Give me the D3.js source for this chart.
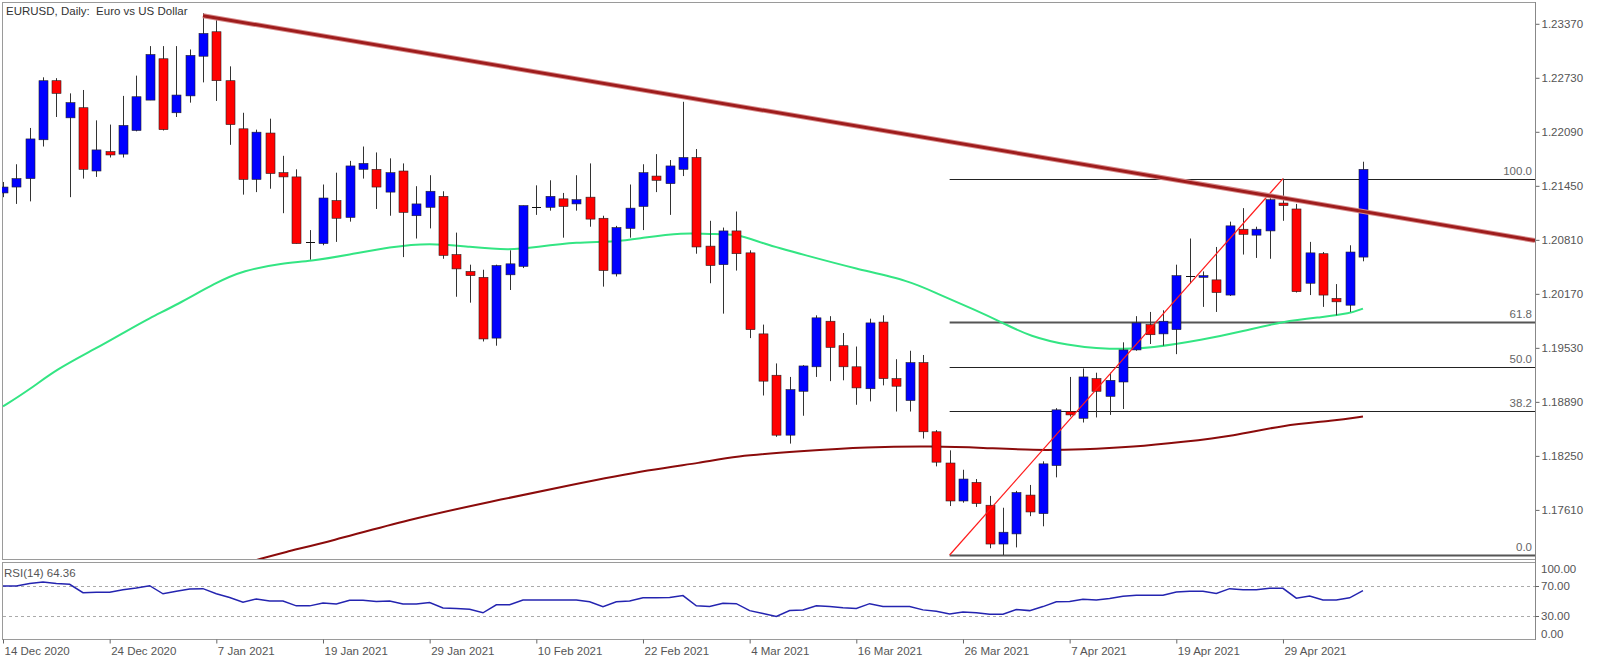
<!DOCTYPE html>
<html>
<head>
<meta charset="utf-8">
<script src="https://cdn.jsdelivr.net/npm/d3@7"></script>
<style>
  html, body { margin: 0; padding: 0; background: #fff; }
  svg { display: block; font-family: "Liberation Sans", Arial, sans-serif; }
</style>
</head>
<body>
<svg id="chart" width="1600" height="661"></svg>
<script>
// EURUSD daily candles, bar 0 = 14 Dec 2020 ... bar 102 = 7 May 2021
const opens  = [1.2133,1.2140,1.2150,1.2196,1.2266,1.2222,1.2234,1.2159,1.2182,1.2179,1.2207,1.2243,1.2292,1.2228,1.2248,1.2295,1.2324,1.2266,1.2209,1.2149,
                1.2204,1.2157,1.2152,1.2075,1.2073,1.2124,1.2104,1.2161,1.2161,1.2134,1.2159,1.2106,1.2116,1.2129,1.2060,1.2040,1.2033,1.1961,1.2036,1.2046,
                1.2116,1.2116,1.2126,1.2120,1.2128,1.2103,1.2037,1.2091,1.2117,1.2153,1.2144,1.2161,1.2175,1.2070,1.2048,1.2088,1.2062,1.1966,1.1917,1.1846,
                1.1898,1.1927,1.1981,1.1952,1.1927,1.1901,1.1980,1.1913,1.1887,1.1932,1.1850,1.1813,1.1768,1.1790,1.1763,1.1717,1.1729,1.1775,1.1753,1.1810,
                1.1874,1.1866,1.1913,1.1892,1.1909,1.1947,1.1977,1.1966,1.1971,1.2035,1.2033,1.2030,1.2012,1.2090,1.2083,1.2088,1.2121,1.2114,1.2026,1.2061,
                1.2008,1.2000,1.2057];
const highs  = [1.2146,1.2167,1.2210,1.2270,1.2269,1.2251,1.2255,1.2219,1.2214,1.2248,1.2272,1.2307,1.2307,1.2307,1.2303,1.2346,1.2340,1.2283,1.2228,1.2208,
                1.2221,1.2177,1.2161,1.2089,1.2143,1.2157,1.2171,1.2188,1.2181,1.2174,1.2168,1.2141,1.2154,1.2135,1.2086,1.2048,1.2042,1.2048,1.2065,1.2118,
                1.2142,1.2148,1.2133,1.2154,1.2168,1.2106,1.2094,1.2143,1.2167,1.2179,1.2172,1.2241,1.2185,1.2100,1.2092,1.2111,1.2065,1.1977,1.1931,1.1915,
                1.1929,1.1988,1.1987,1.1967,1.1951,1.1984,1.1988,1.1936,1.1946,1.1941,1.1852,1.1828,1.1805,1.1794,1.1774,1.1760,1.1780,1.1787,1.1815,1.1878,
                1.1915,1.1925,1.1920,1.1920,1.1956,1.1987,1.1992,1.1994,1.2048,1.2079,1.2040,1.2069,1.2099,1.2115,1.2093,1.2129,1.2150,1.2120,1.2075,1.2063,
                1.2025,1.2071,1.2170];
const lows   = [1.2128,1.2120,1.2123,1.2188,1.2223,1.2128,1.2150,1.2152,1.2175,1.2175,1.2206,1.2243,1.2207,1.2223,1.2240,1.2264,1.2242,1.2190,1.2131,1.2134,
                1.2138,1.2109,1.2073,1.2054,1.2071,1.2075,1.2099,1.2150,1.2114,1.2106,1.2057,1.2079,1.2091,1.2055,1.2010,1.2003,1.1957,1.1952,1.2018,1.2044,
                1.2107,1.2112,1.2080,1.2112,1.2093,1.2022,1.2034,1.2080,1.2089,1.2134,1.2107,1.2153,1.2061,1.2026,1.1990,1.2041,1.1961,1.1893,1.1844,1.1836,
                1.1869,1.1915,1.1910,1.1911,1.1882,1.1886,1.1905,1.1874,1.1874,1.1842,1.1809,1.1762,1.1766,1.1761,1.1712,1.1704,1.1713,1.1750,1.1738,1.1796,
                1.1868,1.1861,1.1867,1.1870,1.1877,1.1946,1.1954,1.1952,1.1942,1.2026,1.1998,1.1992,1.2011,1.2060,1.2056,1.2055,1.2100,1.2015,1.2012,1.1998,
                1.1988,1.1992,1.2052];
const closes = [1.2140,1.2150,1.2197,1.2266,1.2251,1.2240,1.2161,1.2184,1.2178,1.2213,1.2247,1.2297,1.2208,1.2249,1.2296,1.2322,1.2266,1.2214,1.2149,1.2205,
                1.2156,1.2152,1.2073,1.2075,1.2127,1.2103,1.2165,1.2168,1.2140,1.2157,1.2110,1.2120,1.2135,1.2059,1.2043,1.2035,1.1960,1.2047,1.2049,1.2118,
                1.2116,1.2129,1.2117,1.2125,1.2102,1.2041,1.2092,1.2115,1.2157,1.2148,1.2165,1.2175,1.2069,1.2047,1.2088,1.2061,1.1971,1.1910,1.1846,1.1900,
                1.1928,1.1985,1.1950,1.1927,1.1902,1.1979,1.1913,1.1904,1.1932,1.1850,1.1814,1.1768,1.1794,1.1765,1.1717,1.1731,1.1778,1.1755,1.1812,1.1876,
                1.1870,1.1915,1.1898,1.1911,1.1947,1.1979,1.1965,1.1981,1.2035,1.2035,1.2035,1.2015,1.2094,1.2084,1.2090,1.2125,1.2118,1.2016,1.2062,1.2012,
                1.2004,1.2063,1.2161];

// moving averages: [bar, price]
const maFast = [[0,1.1880],[2,1.1900],[4,1.1924],[7,1.1949],[9,1.1967],[11,1.1985],[13,1.2000],[16,1.2027],[18,1.2041],[21,1.2050],
                [23,1.2052],[26,1.2060],[29,1.2069],[32,1.2074],[35,1.2069],[38,1.2065],[40,1.2069],[43,1.2075],[46,1.2075],[48,1.2080],
                [51,1.2086],[53,1.2084],[55,1.2085],[57,1.2073],[60,1.2060],[64,1.2043],[68,1.2029],[70,1.2014],[73,1.1994],[75,1.1979],
                [77,1.1963],[80,1.1952],[82,1.1949],[84,1.1948],[86,1.1949],[90,1.1959],[93,1.1969],[96,1.1981],[99,1.1986],[101,1.1990],[102,1.1996]];
const maSlow = [[19,1.1698],[21,1.1707],[24.5,1.1720],[30.4,1.1746],[36.5,1.1767],[42.6,1.1787],[48.8,1.1806],[52.3,1.1813],[54.8,1.1821],
                [59.8,1.1827],[64.8,1.1832],[69.8,1.1833],[73.5,1.1831],[77.3,1.1828],[81,1.1829],[84.8,1.1832],[88.5,1.1838],[92.3,1.1845],
                [96,1.1858],[99.8,1.1863],[102,1.1868]];

// RSI(14): [bar, value]
const rsi = [[0,70.5],[1,70.5],[2,74],[3,76],[4,74],[5,73],[6,61.5],[7,62],[8,62],[9,65.5],[10,68],[11,71],[12,60],[13,63.5],[14,66.5],[15,67],
             [16,60],[17,55],[18,48.5],[19,53],[20,50],[21,50],[22,43.5],[23,43.5],[24,47.5],[25,46],[26,51],[27,51],[28,49.5],[29,50],[30,46],
             [31,46],[32,48],[33,40.5],[34,40],[35,39],[36,34],[37,45],[38,45],[39,51.5],[40,51.5],[41,51.5],[42,51.5],[43,51.5],[44,49],[45,42.5],
             [46,49],[47,50],[48,54.5],[49,54.5],[50,55],[51,57.5],[52,43.5],[53,42.5],[54,47],[55,46.5],[56,37],[57,33],[58,29],[59,37],[60,38],
             [61,43.5],[62,42.5],[63,41],[64,40],[65,46.5],[66,42.5],[67,42.5],[68,42.5],[69,38],[70,36],[71,32.5],[72,35],[73,34],[74,32],[75,32],
             [76,38.5],[77,37],[78,42.5],[79,49],[80,49.5],[81,52.5],[82,51.5],[83,53.5],[84,56.5],[85,58],[86,58],[87,58],[88,62.5],[89,63.5],
             [90,63.5],[91,60.5],[92,67],[93,65.5],[94,65.5],[95,67.5],[96,67.5],[97,54],[98,57],[99,51.5],[100,51.5],[101,54.5],[102,64.36]];

// drawn objects
const trendLine = [[15,1.2343],[102,1.2111]];
const fibLow = [71,1.1704], fibHigh = [96,1.2150];
const fibLevels = [0, 38.2, 50, 61.8, 100];

const priceTicks = [1.23370,1.22730,1.22090,1.21450,1.20810,1.20170,1.19530,1.18890,1.18250,1.17610];
const dateTicks = [0,8,16,24,32,40,48,56,64,72,80,88,96];
const dateLabels = ["14 Dec 2020","24 Dec 2020","7 Jan 2021","19 Jan 2021","29 Jan 2021","10 Feb 2021","22 Feb 2021",
                    "4 Mar 2021","16 Mar 2021","26 Mar 2021","7 Apr 2021","19 Apr 2021","29 Apr 2021"];
const rsiLevels = [70, 30];

const left = 2, right = 1535, mainTop = 2, mainBottom = 559, rsiTop = 562, rsiBottom = 639;

const svg = d3.select("#chart");

const x = d3.scaleLinear().domain([0, 1]).range([3, 3 + 13.333]);
const y = d3.scaleLinear().domain([1.1704, 1.2150]).range([555, 178.6]);
const yr = d3.scaleLinear().domain([0, 100]).range([637.7, 564.5]);

svg.append("defs").append("clipPath").attr("id", "mainclip")
  .append("rect").attr("x", left).attr("y", mainTop).attr("width", right - left).attr("height", mainBottom - mainTop);

// panel frames
svg.append("rect").attr("x", left + 0.5).attr("y", mainTop + 0.5).attr("width", right - left).attr("height", mainBottom - mainTop)
  .attr("fill", "none").attr("stroke", "#9a9a9a");
svg.append("rect").attr("x", left + 0.5).attr("y", rsiTop + 0.5).attr("width", right - left).attr("height", rsiBottom - rsiTop)
  .attr("fill", "none").attr("stroke", "#9a9a9a");

const main = svg.append("g").attr("clip-path", "url(#mainclip)");

// fibonacci retracement
const fx0 = x(fibLow[0]);
const fib = main.append("g");
fibLevels.forEach(lv => {
  const p = fibLow[1] + (fibHigh[1] - fibLow[1]) * lv / 100;
  const thick = (lv === 0 || lv === 61.8);
  fib.append("line")
    .attr("x1", fx0).attr("x2", right)
    .attr("y1", Math.round(y(p)) + 0.5).attr("y2", Math.round(y(p)) + 0.5)
    .attr("stroke", thick ? "#555" : "#222").attr("stroke-width", thick ? 2 : 1);
  fib.append("text")
    .attr("x", right - 3).attr("y", y(p) - 4)
    .attr("text-anchor", "end").attr("font-size", "11.5px").attr("fill", "#666")
    .text(lv.toFixed(1));
});

// moving averages
const maLine = d3.line().x(d => x(d[0])).y(d => y(d[1])).curve(d3.curveBasis);
main.append("path").attr("d", maLine(maSlow)).attr("fill", "none").attr("stroke", "#8b0b0b").attr("stroke-width", 2);
main.append("path").attr("d", maLine(maFast)).attr("fill", "none").attr("stroke", "#33e583").attr("stroke-width", 2);

// candles
const bars = d3.range(opens.length).map(i => ({ i, o: opens[i], h: highs[i], l: lows[i], c: closes[i] }));
const cg = main.append("g");
const bw = 9;
cg.selectAll("line.wick").data(bars).join("line")
  .attr("class", "wick")
  .attr("x1", d => Math.round(x(d.i)) + 0.5).attr("x2", d => Math.round(x(d.i)) + 0.5)
  .attr("y1", d => y(d.h)).attr("y2", d => y(d.l))
  .attr("stroke", "#333").attr("stroke-width", 1);
cg.selectAll("rect.body").data(bars.filter(d => d.o !== d.c)).join("rect")
  .attr("class", "body")
  .attr("x", d => Math.round(x(d.i)) - 4)
  .attr("width", bw)
  .attr("y", d => y(Math.max(d.o, d.c)))
  .attr("height", d => Math.max(1.5, Math.abs(y(d.o) - y(d.c))))
  .attr("fill", d => d.c > d.o ? "#0000ff" : "#ff0000")
  .attr("stroke", "#222").attr("stroke-width", 0.6);
cg.selectAll("line.doji").data(bars.filter(d => d.o === d.c)).join("line")
  .attr("class", "doji")
  .attr("x1", d => Math.round(x(d.i)) - 4).attr("x2", d => Math.round(x(d.i)) + 5)
  .attr("y1", d => Math.round(y(d.c)) + 0.5).attr("y2", d => Math.round(y(d.c)) + 0.5)
  .attr("stroke", "#111").attr("stroke-width", 1);

// fib trend diagonal
main.append("line")
  .attr("x1", x(fibLow[0])).attr("y1", y(fibLow[1]))
  .attr("x2", x(fibHigh[0])).attr("y2", y(fibHigh[1]))
  .attr("stroke", "#ff1a1a").attr("stroke-width", 1.2);

// descending trend line (ray to the right)
const t0 = trendLine[0], t1 = trendLine[1];
const slope = (t1[1] - t0[1]) / (t1[0] - t0[0]);
const tEnd = x.invert(right);
const tPts = [[t0[0], t0[1]], [tEnd, t0[1] + slope * (tEnd - t0[0])]];
const tl = d3.line().x(d => x(d[0])).y(d => y(d[1]));
main.append("path").attr("d", tl(tPts)).attr("stroke", "#d88a8a").attr("stroke-width", 5).attr("fill", "none");
main.append("path").attr("d", tl(tPts)).attr("stroke", "#9e1c1c").attr("stroke-width", 3).attr("fill", "none");

// title
svg.append("text").attr("x", 6).attr("y", 15).attr("font-size", "11.5px").attr("fill", "#333")
  .attr("xml:space", "preserve").text("EURUSD, Daily:  Euro vs US Dollar");

// price axis
const pAxis = svg.append("g").attr("transform", `translate(${right + 0.5},3)`)
  .call(d3.axisRight(y).tickValues(priceTicks).tickFormat(d3.format(".5f")).tickSize(4).tickPadding(2));
pAxis.select(".domain").remove();
pAxis.selectAll("line").attr("stroke", "#666");
pAxis.selectAll("text").attr("font-size", "11.5px").attr("fill", "#555")
  .attr("font-family", "Liberation Sans, Arial, sans-serif");

svg.append("line").attr("x1", right + 0.5).attr("x2", right + 0.5).attr("y1", mainTop).attr("y2", rsiBottom + 1)
  .attr("stroke", "#888");

// RSI panel
const rg = svg.append("g");
rsiLevels.forEach(v => {
  rg.append("line").attr("x1", left + 1).attr("x2", right)
    .attr("y1", Math.round(yr(v)) + 0.5).attr("y2", Math.round(yr(v)) + 0.5)
    .attr("stroke", "#aaa").attr("stroke-dasharray", "3,3");
});
rg.append("path")
  .attr("d", d3.line().x(d => x(d[0])).y(d => yr(d[1]))(rsi))
  .attr("fill", "none").attr("stroke", "#2424b0").attr("stroke-width", 1.5);
rg.append("text").attr("x", 4).attr("y", 577).attr("font-size", "11.5px").attr("fill", "#555")
  .text("RSI(14) " + rsi[rsi.length - 1][1].toFixed(2));

const rsiAxisVals = [100, 70, 30, 0];
rsiAxisVals.forEach(v => {
  let yy = yr(v);
  if (v === 100) yy += 4;
  if (v === 0) yy -= 4;
  if (v === 70 || v === 30) {
    svg.append("line").attr("x1", right).attr("x2", right + 4).attr("y1", Math.round(yr(v)) + 0.5).attr("y2", Math.round(yr(v)) + 0.5)
      .attr("stroke", "#666");
  }
  svg.append("text").attr("x", right + 6).attr("y", yy).attr("dy", "0.35em")
    .attr("font-size", "11.5px").attr("fill", "#555").text(v.toFixed(2));
});

// date axis
const dAxis = svg.append("g").attr("transform", `translate(0,${rsiBottom + 0.5})`)
  .call(d3.axisBottom(x).tickValues(dateTicks).tickFormat((d, i) => dateLabels[i]).tickSize(4).tickPadding(3));
dAxis.select(".domain").remove();
dAxis.selectAll("line").attr("stroke", "#666");
dAxis.selectAll("text").attr("text-anchor", "start").attr("dx", "1")
  .attr("font-size", "11.5px").attr("fill", "#555").attr("font-family", "Liberation Sans, Arial, sans-serif");
</script>
</body>
</html>
